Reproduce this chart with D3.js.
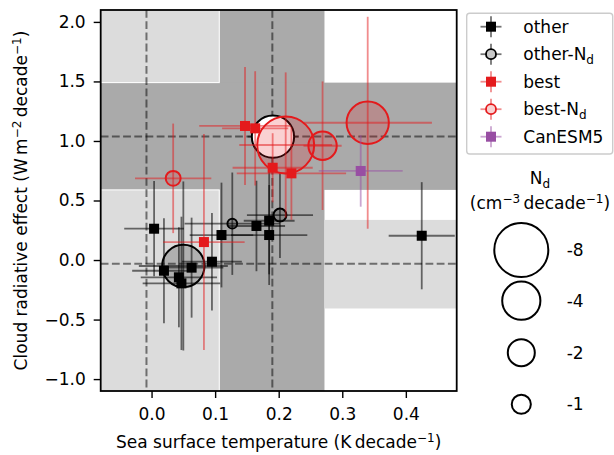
<!DOCTYPE html>
<html><head><meta charset="utf-8">
<script src="https://cdn.jsdelivr.net/npm/d3@7"></script>
<style>
html,body{margin:0;padding:0;background:#fff;}
text{font-family:"DejaVu Sans",sans-serif;fill:#000;}
</style></head>
<body><svg id="c" width="614" height="455"></svg>
<script>
// ---------------- data ----------------
const xTicks = [0.0, 0.1, 0.2, 0.3, 0.4];
const yTicks = [-1.0, -0.5, 0.0, 0.5, 1.0, 1.5, 2.0];
// [x, y, xerr, yerr]
const other = [
  [0.004, 0.263, 0.047, 0.40],
  [0.110, 0.210, 0.050, 0.44],
  [0.165, 0.286, 0.045, 0.38],
  [0.185, 0.330, 0.040, 0.45],
  [0.185, 0.210, 0.060, 0.42],
  [0.095, -0.014, 0.047, 0.41],
  [0.063, -0.064, 0.050, 0.42],
  [0.0195, -0.090, 0.050, 0.44],
  [0.043, -0.145, 0.060, 0.42],
  [0.047, -0.196, 0.061, 0.56],
  [0.425, 0.204, 0.052, 0.45]
];
// [x, y, xerr, yerr, Nd]
const otherNd = [
  [0.127, 0.305, 0.075, 0.43, -0.26],
  [0.202, 0.378, 0.052, 0.36, -0.46],
  [0.050, -0.050, 0.070, 0.71, -4.9]
];
const obsNd = [[0.191, 1.036, 0.040, 0.15, -4.9]];
const best = [
  [0.147, 1.126, 0.072, 0.495],
  [0.163, 1.106, 0.052, 0.48],
  [0.1905, 0.775, 0.063, 0.29],
  [0.220, 0.728, 0.086, 0.39],
  [0.0824, 0.151, 0.064, 0.907]
];
const bestNd = [
  [0.034, 0.686, 0.060, 0.46, -0.61],
  [0.269, 0.960, 0.030, 0.54, -2.2],
  [0.340, 1.153, 0.101, 0.89, -4.9],
  [0.211, 0.966, 0.073, 0.61, -8.9]
];
const canesm = [[0.329, 0.748, 0.066, 0.30]];
// observational ranges
const obsX = [0.1065, 0.272];
const obsY = [0.589, 1.49];
const obsYright = [-0.407, 0.337];
const dashX = [-0.008, 0.19];
const dashY = [-0.032, 1.037];
const ndLegend = [-8, -4, -2, -1];
const legendNames = ["other", "other-N", "best", "best-N", "CanESM5"];

// ---------------- layout ----------------
const FS = 17, FSS = 12;
const svg = d3.select("#c");
const L = 100.7, T = 10, R = 456.7, B = 391;
const x = d3.scaleLinear().domain([-0.08, 0.48]).range([L, R]);
const y = d3.scaleLinear().domain([-1.1, 2.1]).range([B, T]);
const rS = d3.scaleSqrt().domain([0, 1]).range([0, 9.55]);
const RED = "#e41a1c", PURPLE = "#984ea3";
const DARK = "#aaaaaa", LIGHT = "#dcdcdc";

// text helpers: shifted small text, then return to baseline
function shifted(t, str, dy) {
  t.append("tspan").attr("dy", dy).attr("font-size", FSS).text(str);
  return t.append("tspan").attr("dy", -dy);
}
function sup(t, str) { return shifted(t, str, -6.5); }
function sub(t, str) { return shifted(t, str, 4); }

const g = svg.append("g");
// dark bands
g.append("rect").attr("x", x(obsX[0])).attr("y", T).attr("width", x(obsX[1]) - x(obsX[0])).attr("height", B - T).attr("fill", DARK);
g.append("rect").attr("x", L).attr("y", y(obsY[1])).attr("width", R - L).attr("height", y(obsY[0]) - y(obsY[1])).attr("fill", DARK);
// light patches
g.append("rect").attr("x", L).attr("y", T).attr("width", x(obsX[0]) - L).attr("height", y(obsY[1]) - T).attr("fill", LIGHT).attr("stroke", "#fff").attr("stroke-width", 1);
g.append("rect").attr("x", L).attr("y", y(obsY[0])).attr("width", x(obsX[0]) - L).attr("height", B - y(obsY[0])).attr("fill", LIGHT).attr("stroke", "#fff").attr("stroke-width", 1);
g.append("rect").attr("x", x(obsX[1])).attr("y", y(obsYright[1])).attr("width", R - x(obsX[1])).attr("height", y(obsYright[0]) - y(obsYright[1])).attr("fill", LIGHT);

// dashed lines
dashX.forEach(v => g.append("line").attr("x1", x(v)).attr("x2", x(v)).attr("y1", T).attr("y2", B)
  .attr("stroke", "#000").attr("stroke-opacity", 0.5).attr("stroke-width", 2).attr("stroke-dasharray", "7.8,3.4"));
dashY.forEach(v => g.append("line").attr("y1", y(v)).attr("y2", y(v)).attr("x1", L).attr("x2", R)
  .attr("stroke", "#000").attr("stroke-opacity", 0.5).attr("stroke-width", 2).attr("stroke-dasharray", "7.8,3.4"));

function errs(data, color, op) {
  const e = g.append("g").attr("stroke", color).attr("stroke-opacity", op).attr("stroke-width", 1.8);
  data.forEach(d => {
    e.append("line").attr("x1", x(d[0] - d[2])).attr("x2", x(d[0] + d[2])).attr("y1", y(d[1])).attr("y2", y(d[1]));
    e.append("line").attr("x1", x(d[0])).attr("x2", x(d[0])).attr("y1", y(d[1] - d[3])).attr("y2", y(d[1] + d[3]));
  });
}
function squares(data, color) {
  g.append("g").selectAll("rect").data(data).join("rect")
    .attr("x", d => x(d[0]) - 5).attr("y", d => y(d[1]) - 5).attr("width", 10).attr("height", 10).attr("fill", color);
}
function circles(data, stroke, fill, fop) {
  g.append("g").selectAll("circle").data(data).join("circle")
    .attr("cx", d => x(d[0])).attr("cy", d => y(d[1])).attr("r", d => rS(Math.abs(d[4])))
    .attr("fill", fill).attr("fill-opacity", fop).attr("stroke", stroke).attr("stroke-width", 2);
}

// other-Nd and obs
errs(otherNd, "#000", 0.55);
errs(obsNd, "#000", 0.55);
circles(obsNd, "#000", "#fff", 1);
circles(otherNd, "#000", "#000", 0.2);
errs(other, "#000", 0.55);
squares(other, "#000");
// best
errs(bestNd, RED, 0.5);
circles(bestNd, RED, RED, 0.2);
errs(best, RED, 0.5);
squares(best, RED);
errs(canesm, PURPLE, 0.5);
squares(canesm, PURPLE);

// frame
svg.append("rect").attr("x", L).attr("y", T).attr("width", R - L).attr("height", B - T)
  .attr("fill", "none").attr("stroke", "#000").attr("stroke-width", 1.8);

// axes
const fmt = v => (v < 0 ? "\u2212" : "") + Math.abs(v).toFixed(1);
const xa = svg.append("g").attr("transform", `translate(0,${B})`)
  .call(d3.axisBottom(x).tickValues(xTicks).tickFormat(fmt).tickSize(7).tickPadding(5));
const ya = svg.append("g").attr("transform", `translate(${L},0)`)
  .call(d3.axisLeft(y).tickValues(yTicks).tickFormat(fmt).tickSize(7).tickPadding(8));
[xa, ya].forEach(a => {
  a.select(".domain").remove();
  a.selectAll("line").attr("stroke", "#000").attr("stroke-width", 1.4);
  a.selectAll("text").attr("font-size", FS).attr("font-family", "DejaVu Sans");
});
xa.selectAll("text").attr("dy", "0").attr("y", 29);

// axis labels
const xl = svg.append("text").attr("x", (L + R) / 2).attr("y", 448).attr("text-anchor", "middle").attr("font-size", FS);
xl.append("tspan").text("Sea surface temperature (K\u2009decade");
sup(xl, "\u22121").text(")");

const yl = svg.append("text").attr("transform", `translate(27,${(T + B) / 2}) rotate(-90)`).attr("text-anchor", "middle").attr("font-size", FS);
yl.append("tspan").text("Cloud radiative effect (W\u2009m");
sup(yl, "\u22122").text("\u2009decade");
sup(yl, "\u22121").text(")");

// legend
const lg = svg.append("g");
lg.append("rect").attr("x", 466.7).attr("y", 13.3).attr("width", 146).attr("height", 140.7).attr("rx", 3)
  .attr("fill", "#fff").attr("stroke", "#ccc").attr("stroke-width", 1.4);
const rowY = i => 26.7 + i * 27.5;
const mx = 491;
const legStyles = [
  {c: "#000", op: 0.55, m: "sq", fill: "#000"},
  {c: "#000", op: 0.55, m: "ci", fill: "#c8c8c8"},
  {c: RED, op: 0.5, m: "sq", fill: RED},
  {c: RED, op: 0.5, m: "ci", fill: "#f9d1d1"},
  {c: PURPLE, op: 0.5, m: "sq", fill: PURPLE}
];
legendNames.forEach((name, i) => {
  const s = legStyles[i], yy = rowY(i);
  lg.append("line").attr("x1", mx - 10.5).attr("x2", mx + 10.5).attr("y1", yy).attr("y2", yy).attr("stroke", s.c).attr("stroke-opacity", s.op).attr("stroke-width", 1.8);
  lg.append("line").attr("x1", mx).attr("x2", mx).attr("y1", yy - 10.5).attr("y2", yy + 10.5).attr("stroke", s.c).attr("stroke-opacity", s.op).attr("stroke-width", 1.8);
  if (s.m === "sq") lg.append("rect").attr("x", mx - 5).attr("y", yy - 5).attr("width", 10).attr("height", 10).attr("fill", s.fill);
  else lg.append("circle").attr("cx", mx).attr("cy", yy).attr("r", 5).attr("fill", s.fill).attr("stroke", s.c).attr("stroke-width", 1.8);
  const t = lg.append("text").attr("x", 523.3).attr("y", yy + 6).attr("font-size", FS);
  t.append("tspan").text(name);
  if (name.endsWith("-N")) sub(t, "d");
});

// Nd size legend
const nt = svg.append("text").attr("x", 540).attr("y", 184.3).attr("text-anchor", "middle").attr("font-size", FS);
nt.append("tspan").text("N");
sub(nt, "d");
const nt2 = svg.append("text").attr("x", 540).attr("y", 209).attr("text-anchor", "middle").attr("font-size", FS);
nt2.append("tspan").text("(cm");
sup(nt2, "\u22123").text("\u2009decade");
sup(nt2, "\u22121").text(")");
const ndY = [250, 300.7, 352.7, 404.3];
ndLegend.forEach((v, i) => {
  svg.append("circle").attr("cx", 521.3).attr("cy", ndY[i]).attr("r", rS(Math.abs(v)))
    .attr("fill", "#fff").attr("stroke", "#000").attr("stroke-width", 2);
  svg.append("text").attr("x", 566.7).attr("y", ndY[i] + 6).attr("font-size", FS).text("-" + Math.abs(v));
});
</script></body></html>
